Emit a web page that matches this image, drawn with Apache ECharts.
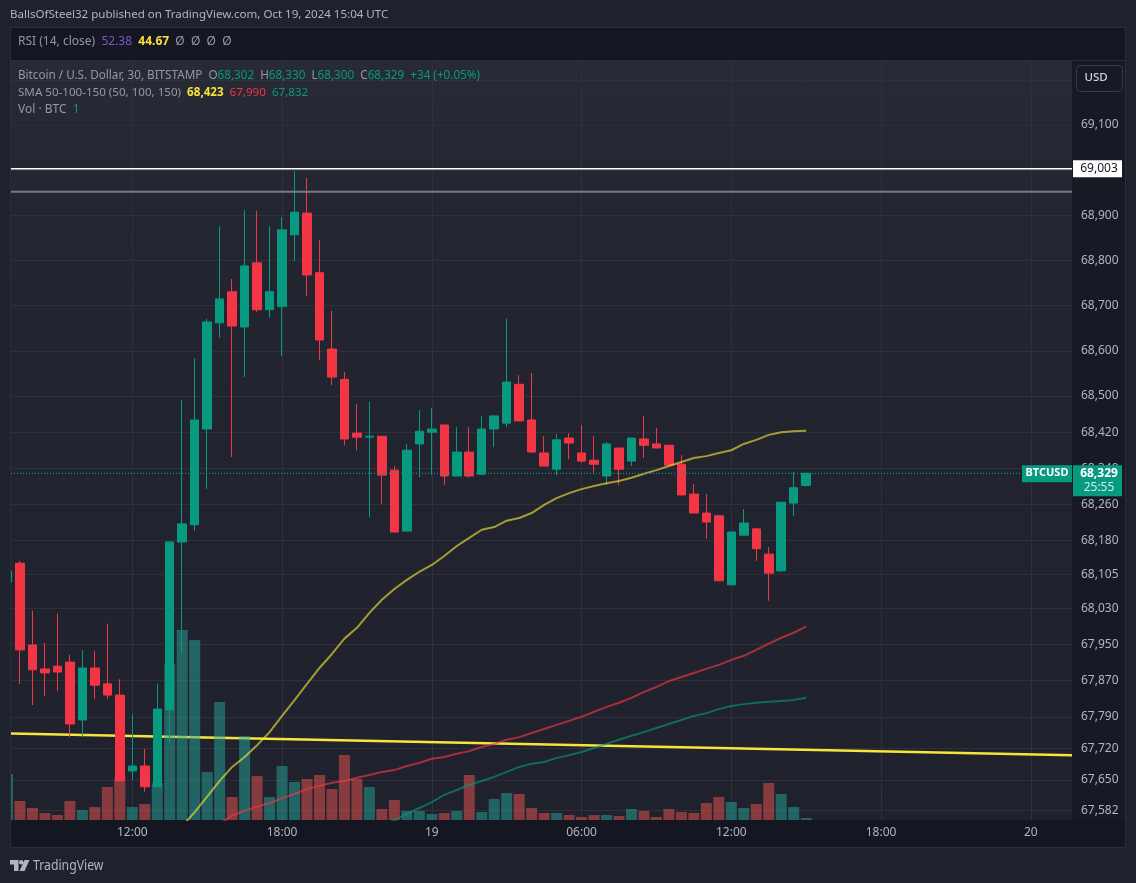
<!DOCTYPE html>
<html>
<head>
<meta charset="utf-8">
<title>BTCUSD</title>
<style>
  html, body { margin: 0; padding: 0; background: #1e222d; }
  #main { width: 1136px; height: 883px; }
</style>
<script src="https://cdn.jsdelivr.net/npm/echarts@6/dist/echarts.min.js"></script>
</head>
<body>
<div id="main"></div>
<script>
// half hour candles, slot 0 = Oct 18 07:00 UTC
const opens = [68088,68130,67949,67896,67902,67911,67783,67898,67863,67838,67670,67681,67635,67805,68177,68215,68427,68662,68731,68653,68795,68691,68698,68857,68905,68773,68604,68537,68418,68409,68411,68336,68201,68394,68420,68436,68323,68376,68327,68427,68440,68526,68447,68374,68338,68407,68374,68358,68323,68385,68356,68405,68394,68391,68349,68283,68241,68235,68082,68192,68206,68150,68113,68263,68302];
const closes = [68113,67938,67894,67887,67889,67774,67898,67860,67838,67648,67681,67635,67807,68177,68217,68447,68664,68715,68655,68788,68691,68731,68868,68907,68768,68624,68542,68405,68409,68411,68325,68199,68380,68422,68427,68323,68376,68323,68427,68456,68531,68445,68376,68345,68403,68396,68356,68349,68394,68338,68407,68391,68385,68347,68281,68241,68221,68091,68199,68219,68162,68108,68265,68297,68329];
const lows = [68088,67863,67816,67836,67847,67745,67745,67829,67829,67648,67650,67624,67635,67732,67929,68201,68294,68629,68365,68542,68686,68673,68588,68799,68722,68580,68524,68391,68380,68232,68261,68199,68201,68321,68325,68303,68323,68319,68325,68387,68431,68445,68374,68345,68325,68360,68352,68327,68303,68303,68345,68363,68385,68347,68281,68241,68184,68091,68082,68192,68135,68047,68111,68235,68300];
const highs = [68113,68135,68025,67954,68018,67927,67938,67936,67996,67873,67796,67719,67863,68177,68491,68584,68671,68876,68759,68912,68910,68876,68896,68998,68983,68845,68689,68553,68482,68487,68411,68345,68394,68469,68473,68436,68431,68431,68456,68456,68671,68546,68551,68411,68416,68418,68436,68411,68398,68385,68407,68456,68429,68391,68369,68305,68283,68237,68201,68250,68208,68166,68265,68332,68330];
const volumes = [23,9.5,6,3.5,2.5,9.5,5,6.5,16.5,21.5,6.5,8,18.5,78,95,90,24,59,11.5,42,22,11.5,27,19,20.5,22.5,15.5,32.5,20.5,16.5,5.5,10,4.5,4.5,3,3.5,4.5,22.5,4,10.5,13.5,13,6,3.5,3.5,2.5,1.5,2.5,2.5,2,5.5,4.5,1.5,5.5,4,3.5,8.5,11.5,9,6,8,18.5,13,6.5,1];

const sma50Start = 14;
const sma50 = [67548,67579,67613,67648,67679,67701,67727,67756,67792,67827,67863,67898,67929,67963,67987,68020,68049,68073,68093,68111,68126,68146,68168,68186,68204,68210,68224,68230,68241,68259,68274,68285,68294,68301,68307,68312,68319,68328,68336,68345,68354,68363,68367,68374,68380,68394,68403,68414,68420,68422,68423];
const sma100Start = 17;
const sma100 = [67553,67571,67582,67591,67599,67610,67619,67630,67637,67644,67648,67655,67661,67668,67672,67681,67688,67697,67701,67708,67714,67723,67730,67739,67745,67754,67763,67772,67781,67790,67801,67812,67821,67832,67845,67856,67869,67878,67887,67896,67905,67916,67925,67938,67952,67965,67976,67990];
const sma150Start = 30;
const sma150 = [67548,67561,67575,67588,67601,67617,67628,67639,67648,67657,67668,67679,67686,67690,67699,67705,67712,67721,67730,67739,67748,67756,67765,67774,67783,67792,67798,67807,67814,67818,67821,67823,67825,67827,67832];

const xMin = 0.28;
const xMax = 85.3;
const yMin = 67561.5;
const yMax = 69243.9;
const volMax = 380;

const xTickSlots = [10,22,34,46,58,70,82];
const xTickLabels = ['12:00','18:00','19','06:00','12:00','18:00','20'];
const yGridValues = [69200,69100,69000,68900,68800,68700,68600,68500,68420,68340,68260,68180,68105,68030,67950,67870,67790,67720,67650,67582];
const yLabelValues = [69100,68900,68800,68700,68600,68500,68420,68340,68260,68180,68105,68030,67950,67870,67790,67720,67650,67582];

const trendPrices = [67753,67705]; // yellow drawing
const whiteLevel = 69003;
const grayLevel = 68952;
const lastPrice = 68329;

const UP = '#089981';
const DOWN = '#f23645';
const FONT = '"Noto Sans", sans-serif';

const slots = opens.map((o, i) => i);
const candleData = slots.map(i => [i, opens[i], closes[i], lows[i], highs[i]]);
const volumeData = slots.map(i => ({
  value: [i, volumes[i]],
  itemStyle: { color: closes[i] >= opens[i] ? 'rgba(38,166,154,0.5)' : 'rgba(239,83,80,0.5)' }
}));
const fromStart = (start, arr) => arr.map((v, i) => [start + i, v]);
const flatLine = (p) => [[xMin, p], [xMax, p]];

function lineSeries(data, color, width, z, opacity, dash) {
  return {
    type: 'line', data: data, z: z, symbol: 'none', silent: true, smooth: false,
    lineStyle: { color: color, width: width, opacity: opacity || 1, type: dash || 'solid' }
  };
}

function fmtThousands(v) {
  return String(v).replace(/\B(?=(\d{3})+$)/g, ',');
}

const chart = echarts.init(document.getElementById('main'));

chart.setOption({
  animation: false,
  backgroundColor: '#1e222d',
  textStyle: { fontFamily: FONT },
  grid: {
    left: 11, right: 64, top: 60, bottom: 63, show: true, borderWidth: 0,
    backgroundColor: new echarts.graphic.LinearGradient(0, 0, 0, 1, [
      { offset: 0, color: '#282b36' },
      { offset: 0.2, color: '#232631' },
      { offset: 1, color: '#1f222c' }
    ])
  },
  xAxis: {
    type: 'value', min: xMin, max: xMax,
    axisLine: { show: false }, axisTick: { show: false, customValues: xTickSlots },
    splitLine: { show: true, lineStyle: { color: '#2e313c', width: 1 } },
    axisLabel: {
      customValues: xTickSlots, color: '#b2b5be', fontSize: 12, margin: 7, fontFamily: FONT,
      formatter: v => xTickLabels[xTickSlots.indexOf(v)]
    }
  },
  yAxis: [{
    type: 'value', position: 'right', min: yMin, max: yMax,
    axisLine: { show: false }, axisTick: { show: false, customValues: yGridValues },
    splitLine: { show: true, lineStyle: { color: '#2e313c', width: 1 } },
    axisLabel: {
      customValues: yLabelValues, color: '#b2b5be', fontSize: 12, margin: 9, fontFamily: FONT,
      formatter: v => fmtThousands(v)
    }
  }, {
    type: 'value', min: 0, max: volMax, show: false, splitLine: { show: false }
  }],
  series: [
    lineSeries(flatLine(trendPrices[0]).map((p, i) => [p[0], trendPrices[i]]), '#f7e53b', 2.4, 1),
    { type: 'bar', data: volumeData, yAxisIndex: 1, barWidth: 11, z: 2, silent: true },
    {
      type: 'candlestick', data: candleData, barWidth: 9, z: 3, silent: true,
      itemStyle: { color: UP, color0: DOWN, borderColor: UP, borderColor0: DOWN, borderWidth: 1 }
    },
    lineSeries(fromStart(sma50Start, sma50), '#ffeb3b', 2, 4, 0.6),
    lineSeries(fromStart(sma100Start, sma100), '#f23645', 2, 4, 0.65),
    lineSeries(fromStart(sma150Start, sma150), '#089981', 2, 4, 0.6),
    lineSeries(flatLine(whiteLevel), '#ffffff', 1.5, 5),
    lineSeries(flatLine(grayLevel), '#787b86', 2, 5),
    lineSeries(flatLine(lastPrice), UP, 1.2, 5, 1, [1, 2])
  ]
});

function richText(x, y, size, parts) {
  const rich = {};
  let text = '';
  parts.forEach((p, i) => {
    const k = 't' + i;
    rich[k] = { fill: p[1], fontSize: size, fontFamily: FONT, fontWeight: p[2] || 'normal' };
    text += '{' + k + '|' + p[0] + '}';
  });
  return {
    type: 'text', x: x, y: y, z: 100, silent: true,
    style: { text: text, rich: rich, verticalAlign: 'middle', fontFamily: FONT }
  };
}
function rect(x, y, w, h, fill, z, r) {
  return { type: 'rect', silent: true, z: z, shape: { x: x, y: y, width: w, height: h, r: r || 0 }, style: { fill: fill } };
}
function label(x, y, text, color, weight, size) {
  return {
    type: 'text', x: x, y: y, z: 110, silent: true,
    style: { text: text, fill: color, fontSize: size || 12, fontFamily: FONT, fontWeight: weight || 'normal', align: 'center', verticalAlign: 'middle' }
  };
}

const GRAY = '#9598a1';
const whiteY = chart.convertToPixel({ yAxisIndex: 0 }, whiteLevel);
const lastY = chart.convertToPixel({ yAxisIndex: 0 }, lastPrice);

chart.setOption({
  graphic: [
    // panels around the plot
    rect(10, 27, 1115, 33, '#141722', -10),
    rect(11, 820, 1114, 27, '#141722', -10),
    rect(1072, 60, 53, 760, '#171a24', -10),
    // first candle is cut by the left edge of the pane
    rect(0, 60, 10.5, 760, '#1e222d', 50),
    { type: 'rect', silent: true, z: 90, shape: { x: 10.5, y: 27.5, width: 1115, height: 820 }, style: { fill: 'none', stroke: '#2a2e39', lineWidth: 1 } },
    { type: 'line', silent: true, z: 90, shape: { x1: 10, y1: 60.5, x2: 1125, y2: 60.5 }, style: { stroke: '#2a2e39', lineWidth: 1 } },

    // publisher line + legend
    richText(10, 15, 11.55, [['BallsOfSteel32 published on TradingView.com, Oct 19, 2024 15:04 UTC', '#b2b5be']]),
    richText(18, 42, 12, [['RSI (14, close)  ', GRAY], ['52.38', '#7e57c2'], ['  ', GRAY], ['44.67', '#f7e03c', 'bold'], ['  Ø  Ø  Ø  Ø', GRAY]]),
    richText(18, 76, 11.7, [['Bitcoin / U.S. Dollar, 30, BITSTAMP  O', GRAY], ['68,302', UP], ['  H', GRAY], ['68,330', UP], ['  L', GRAY], ['68,300', UP], ['  C', GRAY], ['68,329', UP], ['  +34 (+0.05%)', UP]]),
    richText(18, 93, 11.6, [['SMA 50-100-150 (50, 100, 150)  ', GRAY], ['68,423', '#f7e03c', 'bold'], ['  ', GRAY], ['67,990', DOWN], ['  ', GRAY], ['67,832', UP]]),
    richText(18, 110, 12, [['Vol · BTC  ', GRAY], ['1', UP]]),

    // currency button
    { type: 'rect', silent: true, z: 100, shape: { x: 1076.5, y: 65.5, width: 46, height: 26, r: 4 }, style: { fill: '#171a24', stroke: '#363a45', lineWidth: 1 } },
    label(1096, 78, 'USD', '#d1d4dc', 500, 11.5),

    // level + last price tags
    rect(1073, whiteY - 8.5, 49, 17, '#ffffff', 105),
    label(1099, whiteY, fmtThousands(whiteLevel), '#131722'),
    rect(1022, lastY - 8, 50, 17, UP, 105),
    label(1047, lastY, 'BTCUSD', '#ffffff', 'bold', 11),
    rect(1073, lastY - 8, 49, 31, UP, 105),
    label(1099, lastY, fmtThousands(lastPrice), '#ffffff', 'bold'),
    label(1099, lastY + 14.5, '25:55', '#cfeee8'),

    // footer logo
    { type: 'polygon', silent: true, z: 100, shape: { points: [[10, 860], [18.5, 860], [18.5, 871], [14, 871], [14, 864.5], [10, 864.5]] }, style: { fill: '#b2b5be' } },
    { type: 'circle', silent: true, z: 100, shape: { cx: 21.2, cy: 862.2, r: 2.2 }, style: { fill: '#b2b5be' } },
    { type: 'polygon', silent: true, z: 100, shape: { points: [[24.5, 860], [29.5, 860], [24.5, 871], [19.5, 871]] }, style: { fill: '#b2b5be' } },
    {
      type: 'text', x: 33, y: 866, scaleX: 0.875, z: 100, silent: true,
      style: { text: 'TradingView', fill: '#b2b5be', fontSize: 14, fontFamily: FONT, verticalAlign: 'middle' }
    }
  ]
});
</script>
</body>
</html>
